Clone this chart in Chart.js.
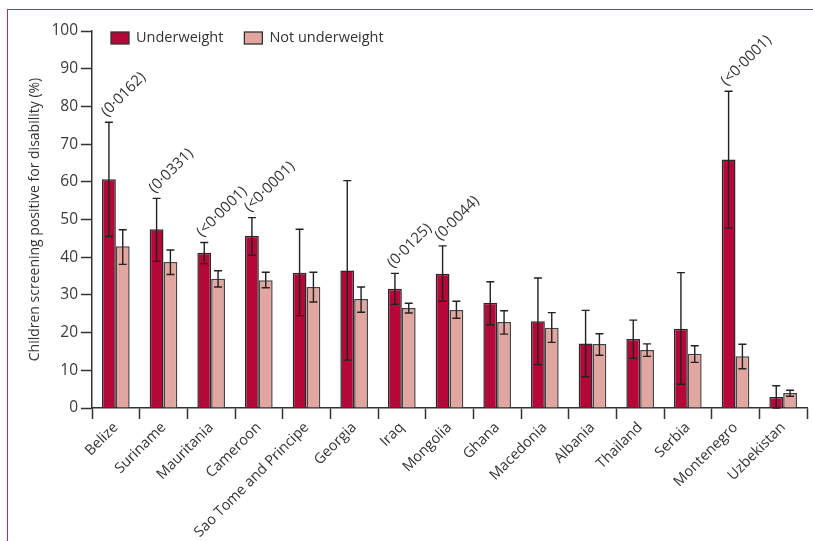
<!DOCTYPE html>
<html>
<head>
<meta charset="utf-8">
<script src="https://cdn.jsdelivr.net/npm/chart.js@4.4.1/dist/chart.umd.min.js"></script>
<style>
  html, body { margin: 0; padding: 0; background: #fff; }
  #wrap { position: relative; width: 813px; height: 541px; overflow: hidden; }
  #frame { position: absolute; left: 7px; top: 9px; right: -2px; bottom: -2px;
           border-top: 1.5px solid #c4285a; border-left: 1.5px solid #c4285a; }
  canvas { position: absolute; left: 0; top: 0; }
</style>
</head>
<body>
<div id="wrap">
  <div id="frame"></div>
  <canvas id="chart" width="813" height="541"></canvas>
</div>
<script>
var countries = ['Belize', 'Suriname', 'Mauritania', 'Cameroon', 'Sao Tome and Principe', 'Georgia',
  'Iraq', 'Mongolia', 'Ghana', 'Macedonia', 'Albania', 'Thailand', 'Serbia', 'Montenegro', 'Uzbekistan'];

var underweight      = [60.7, 47.4, 41.2, 45.7, 35.9, 36.5, 31.6, 35.6, 27.9, 23.0, 17.1, 18.3, 21.0, 65.9, 2.9];
var underweightLow   = [45.5, 38.9, 38.3, 40.5, 24.5, 12.7, 27.5, 28.3, 22.1, 11.5,  8.3, 13.2,  6.3, 47.7, 0.0];
var underweightHigh  = [75.8, 55.6, 43.9, 50.5, 47.4, 60.3, 35.7, 43.0, 33.5, 34.5, 25.9, 23.3, 35.9, 84.0, 5.9];

var notUnderweight     = [42.9, 38.7, 34.3, 33.9, 32.1, 28.9, 26.5, 26.0, 22.8, 21.3, 17.0, 15.4, 14.4, 13.7, 4.0];
var notUnderweightLow  = [38.1, 35.4, 32.1, 31.9, 28.1, 25.4, 25.2, 23.8, 19.6, 17.4, 14.0, 13.7, 12.1, 10.4, 3.1];
var notUnderweightHigh = [47.3, 41.9, 36.4, 36.0, 36.0, 32.1, 27.8, 28.3, 25.8, 25.3, 19.7, 17.0, 16.5, 16.9, 4.7];

var pValues = ['(0·0162)', '(0·0331)', '(<0·0001)', '(<0·0001)', null, null, '(0·0125)', '(0·0044)',
  null, null, null, null, null, '(<0·0001)', null];

var yMin = 0, yMax = 100, yStep = 10;

var FONT = "'Open Sans', 'DejaVu Sans', sans-serif";
var INK = '#333333';

// whiskers drawn over the bars, from the low/high arrays on each dataset
var errorBars = {
  id: 'errorBars',
  afterDatasetsDraw: function(chart) {
    var ctx = chart.ctx, y = chart.scales.y;
    ctx.save();
    ctx.strokeStyle = '#222';
    ctx.lineWidth = 1.4;
    chart.data.datasets.forEach(function(ds, di) {
      chart.getDatasetMeta(di).data.forEach(function(bar, i) {
        var x = bar.x, hi = y.getPixelForValue(ds.errHigh[i]), lo = y.getPixelForValue(ds.errLow[i]);
        ctx.beginPath();
        ctx.moveTo(x, hi); ctx.lineTo(x, lo);
        ctx.moveTo(x - 4, hi); ctx.lineTo(x + 4, hi);
        ctx.moveTo(x - 4, lo); ctx.lineTo(x + 4, lo);
        ctx.stroke();
      });
    });
    // p values above the underweight whiskers
    var meta = chart.getDatasetMeta(0);
    ctx.fillStyle = INK;
    ctx.font = '15px ' + FONT;
    ctx.textAlign = 'left';
    ctx.textBaseline = 'alphabetic';
    pValues.forEach(function(p, i) {
      if (!p) return;
      var x = meta.data[i].x, top = y.getPixelForValue(underweightHigh[i]);
      ctx.save();
      ctx.translate(x - 2, top - 5);
      ctx.rotate(-Math.PI / 4);
      ctx.fillText(p, 0, 0);
      ctx.restore();
    });
    ctx.restore();
  }
};

var boxLegend = {
  id: 'boxLegend',
  afterDraw: function(chart) {
    var ctx = chart.ctx, area = chart.chartArea;
    var x = area.left + 19, top = area.top + 1;
    ctx.save();
    ctx.font = '14.5px ' + FONT;
    ctx.textBaseline = 'middle';
    chart.data.datasets.forEach(function(ds) {
      ctx.fillStyle = ds.backgroundColor;
      ctx.fillRect(x, top, 18, 12);
      ctx.strokeStyle = INK;
      ctx.lineWidth = 1.3;
      ctx.strokeRect(x, top, 18, 12);
      ctx.fillStyle = INK;
      ctx.fillText(ds.label, x + 25, top + 6);
      x += 25 + ctx.measureText(ds.label).width + 21;
    });
    ctx.restore();
  }
};

var yTickValues = [];
for (var v = yMin; v <= yMax; v += yStep) yTickValues.push(v);

new Chart(document.getElementById('chart').getContext('2d'), {
  type: 'bar',
  data: {
    labels: countries,
    datasets: [{
      label: 'Underweight',
      data: underweight,
      errLow: underweightLow,
      errHigh: underweightHigh,
      backgroundColor: '#b30838',
      borderColor: '#2a2a2a',
      borderWidth: 1.5
    }, {
      label: 'Not underweight',
      data: notUnderweight,
      errLow: notUnderweightLow,
      errHigh: notUnderweightHigh,
      backgroundColor: '#e0a69f',
      borderColor: '#444',
      borderWidth: 1.5
    }]
  },
  options: {
    responsive: false,
    animation: false,
    layout: { padding: { top: 31, right: 6, left: 0, bottom: 0 } },
    datasets: { bar: { categoryPercentage: 0.58, barPercentage: 1 } },
    plugins: { legend: { display: false }, tooltip: { enabled: false } },
    scales: {
      x: {
        offset: true,
        grid: { offset: true, drawOnChartArea: false, tickLength: 11, tickColor: INK, tickWidth: 1.5 },
        border: { color: INK, width: 1.5 },
        ticks: { minRotation: 45, maxRotation: 45, color: INK, padding: 0,
                 font: { family: FONT, size: 14.5 } },
        afterFit: function(axis) { axis.height = 133; }
      },
      y: {
        min: yMin, max: yMax,
        afterBuildTicks: function(axis) { axis.ticks = yTickValues.map(function(v) { return { value: v }; }); },
        grid: { drawOnChartArea: false, tickLength: 11, tickColor: INK, tickWidth: 1.5 },
        border: { color: INK, width: 1.5 },
        ticks: { color: '#3a3a3a', padding: 3, font: { family: FONT, size: 15.5 } },
        title: { display: true, text: 'Children screening positive for disability (%)', color: INK,
                 font: { family: FONT, size: 14 }, padding: { top: 27, bottom: 0 } },
        afterFit: function(axis) { axis.width = 92; }
      }
    }
  },
  plugins: [errorBars, boxLegend]
});
</script>
</body>
</html>
